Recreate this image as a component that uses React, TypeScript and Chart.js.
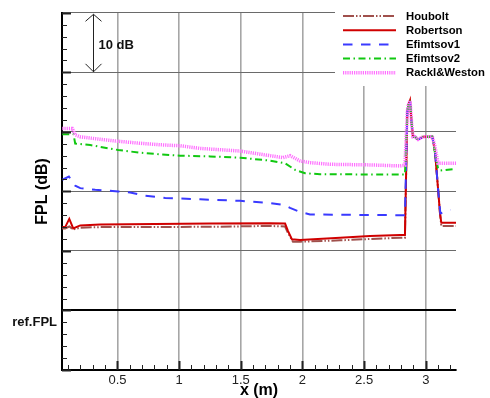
import React, { useEffect, useRef } from "react";
import { Chart, registerables } from "chart.js";
Chart.register(...registerables);

const FONT = "'Liberation Sans', Arial, sans-serif";

const seriesNames = ["Houbolt", "Robertson", "Efimtsov1", "Efimtsov2", "Rackl&Weston"];
const seriesColors = ["#a0504c", "#d00000", "#3a3aff", "#11c811", "#ff70ff"];
const seriesWidths = [2, 2, 2, 2, 3.5];
const seriesDashes: number[][] = [[11, 2, 1.5, 2, 1.5, 2], [], [9.5, 8.5], [7, 3.5, 1.5, 3.5], [1.2, 1]];
const seriesOrder = [4, 3, 2, 1, 0];

const houboltX = [0.052, 0.076, 0.109, 0.141, 0.198, 0.36, 1.251, 1.737, 1.859, 1.883, 1.923, 1.98, 2.305, 2.548, 2.791, 2.831, 2.85, 2.858, 2.872, 2.885, 2.896, 2.912, 2.937, 2.977, 3.053, 3.075, 3.099, 3.115, 3.126, 3.245];
const houboltY = [13.78, 13.78, 14.1, 13.62, 13.9, 14.0, 14.05, 14.2, 14.1, 13.0, 11.55, 11.55, 11.78, 12.0, 12.22, 12.22, 33.33, 34.45, 35.28, 31.5, 29.17, 29.17, 28.72, 29.17, 29.17, 26.67, 20.55, 16.38, 14.17, 14.17];

const robertsonX = [0.052, 0.076, 0.109, 0.141, 0.198, 0.36, 1.251, 1.737, 1.859, 1.883, 1.915, 1.98, 2.305, 2.548, 2.791, 2.831, 2.85, 2.858, 2.872, 2.885, 2.896, 2.912, 2.937, 2.977, 3.053, 3.075, 3.099, 3.115, 3.126, 3.245];
const robertsonY = [14.0, 14.0, 15.38, 13.78, 14.28, 14.45, 14.6, 14.65, 14.6, 13.33, 11.95, 11.83, 12.22, 12.5, 12.67, 12.67, 33.33, 34.45, 35.28, 31.5, 29.17, 29.17, 28.72, 29.17, 29.17, 26.67, 20.55, 16.38, 14.72, 14.72];

const efimtsov1X = [0.052, 0.106, 0.157, 0.198, 0.319, 0.506, 0.603, 0.724, 0.887, 1.008, 1.17, 1.494, 1.575, 1.737, 1.859, 1.899, 1.98, 2.061, 2.791, 2.831, 2.85, 2.858, 2.872, 2.885, 2.896, 2.912, 2.937, 2.977, 3.053, 3.075, 3.099, 3.118, 3.2];
const efimtsov1Y = [21.95, 22.5, 20.95, 20.55, 20.28, 20.0, 19.83, 19.28, 18.88, 18.83, 18.67, 18.42, 18.28, 18.05, 17.67, 17.22, 16.55, 16.12, 16.0, 16.0, 33.33, 34.45, 35.28, 31.5, 29.17, 29.17, 28.72, 29.17, 29.17, 26.67, 20.55, 16.3, 16.9];

const efimtsov2X = [0.052, 0.143, 0.157, 0.279, 0.506, 0.684, 0.846, 1.008, 1.251, 1.494, 1.737, 1.859, 1.94, 2.021, 2.142, 2.791, 2.831, 2.85, 2.858, 2.872, 2.885, 2.896, 2.912, 2.937, 2.977, 3.053, 3.075, 3.099, 3.115, 3.237];
const efimtsov2Y = [29.62, 29.62, 28.05, 27.78, 26.95, 26.5, 26.22, 26.0, 25.88, 25.67, 25.17, 24.72, 23.62, 23.05, 22.88, 22.83, 22.83, 33.33, 34.45, 35.28, 31.5, 29.17, 29.17, 28.72, 29.17, 29.17, 26.38, 23.88, 23.5, 23.78];

const racklX = [0.052, 0.133, 0.157, 0.198, 0.36, 0.506, 0.684, 0.846, 1.008, 1.17, 1.494, 1.737, 1.843, 1.899, 1.98, 2.061, 2.224, 2.548, 2.791, 2.831, 2.85, 2.858, 2.872, 2.885, 2.896, 2.912, 2.937, 2.977, 3.053, 3.075, 3.099, 3.245];
const racklY = [30.55, 30.58, 29.5, 29.17, 28.75, 28.42, 28.08, 27.83, 27.67, 27.22, 26.78, 26.0, 25.67, 26.0, 25.12, 24.83, 24.55, 24.45, 24.28, 24.4, 33.33, 34.45, 35.28, 31.5, 29.17, 29.17, 28.72, 29.17, 29.17, 27.5, 24.72, 24.72];

const seriesXs = [houboltX, robertsonX, efimtsov1X, efimtsov2X, racklX];
const seriesYs = [houboltY, robertsonY, efimtsov1Y, efimtsov2Y, racklY];

const xMin = 0.05;
const xMax = 3.245;
const xMinorStep = 0.1;
const xMajorStep = 0.5;
const xTickLabels = ["0.5", "1", "1.5", "2", "2.5", "3"];
const yMin = -10;
const yMax = 50;
const yMinorStep = 2;
const yMajorStep = 10;
const yLabelValues = [-2];
const yLabelTexts = ["ref.FPL"];
const refLevel = 0;
const arrowX = 0.3;
const arrowFrom = 50;
const arrowTo = 40;
const arrowText = "10 dB";
const xTitle = "x (m)";
const yTitle = "FPL (dB)";

const isMult = (v: number, step: number) => Math.abs(v / step - Math.round(v / step)) < 1e-6;

const decorPlugin = {
  id: "decor",
  afterDraw(chart: any) {
    const { ctx, chartArea } = chart;
    const xs = chart.scales.x;
    const ys = chart.scales.y;
    ctx.save();
    // inward ticks
    ctx.strokeStyle = "#222";
    ctx.setLineDash([]);
    for (let i = Math.ceil(yMin / yMinorStep); i <= Math.floor(yMax / yMinorStep); i++) {
      const v = i * yMinorStep;
      const major = isMult(v, yMajorStep);
      const py = Math.round(ys.getPixelForValue(v)) + 0.5;
      ctx.lineWidth = major ? 2 : 1;
      ctx.beginPath();
      ctx.moveTo(chartArea.left, py);
      ctx.lineTo(chartArea.left + (major ? 9 : 5), py);
      ctx.stroke();
    }
    for (let i = Math.ceil(xMin / xMinorStep); i <= Math.floor(xMax / xMinorStep); i++) {
      const v = i * xMinorStep;
      const major = isMult(v, xMajorStep);
      const px = Math.round(xs.getPixelForValue(v)) + 0.5;
      ctx.lineWidth = major ? 2 : 1;
      ctx.beginPath();
      ctx.moveTo(px, chartArea.bottom);
      ctx.lineTo(px, chartArea.bottom - (major ? 9 : 5));
      ctx.stroke();
    }
    // arrow
    const ax = Math.round(xs.getPixelForValue(arrowX)) + 0.5;
    const ay1 = ys.getPixelForValue(arrowFrom) + 1.5;
    const ay2 = ys.getPixelForValue(arrowTo) - 0.5;
    ctx.strokeStyle = "#222";
    ctx.lineWidth = 1;
    ctx.beginPath();
    ctx.moveTo(ax, ay1);
    ctx.lineTo(ax, ay2);
    ctx.moveTo(ax - 8, ay1 + 7);
    ctx.lineTo(ax, ay1);
    ctx.lineTo(ax + 8, ay1 + 7);
    ctx.moveTo(ax - 8, ay2 - 8);
    ctx.lineTo(ax, ay2);
    ctx.lineTo(ax + 8, ay2 - 8);
    ctx.stroke();
    ctx.fillStyle = "#111";
    ctx.font = `bold 13px ${FONT}`;
    ctx.textAlign = "left";
    ctx.textBaseline = "middle";
    ctx.fillText(arrowText, ax + 5, ys.getPixelForValue(44.6));
    // axis titles
    ctx.font = `bold 16px ${FONT}`;
    ctx.textAlign = "center";
    ctx.fillStyle = "#000";
    ctx.fillText(xTitle, (chartArea.left + chartArea.right) / 2, 391);
    ctx.save();
    ctx.translate(42.5, (chartArea.top + chartArea.bottom) / 2);
    ctx.rotate(-Math.PI / 2);
    ctx.fillText(yTitle, 0, 0);
    ctx.restore();
    // legend
    ctx.fillStyle = "#fff";
    ctx.fillRect(335, 0, 155, 86);
    ctx.font = `bold 11.3px ${FONT}`;
    ctx.textAlign = "left";
    chart.data.datasets.forEach((ds: any, i: number) => {
      const y = 16 + i * 14.2;
      ctx.strokeStyle = ds.borderColor;
      ctx.lineWidth = ds.borderWidth;
      ctx.setLineDash(ds.borderDash || []);
      ctx.beginPath();
      ctx.moveTo(343, y);
      ctx.lineTo(396, y);
      ctx.stroke();
      ctx.setLineDash([]);
      ctx.fillStyle = "#000";
      ctx.fillText(ds.label, 406, y + 0.5);
    });
    ctx.restore();
  },
};

export default function App() {
  const ref = useRef<HTMLCanvasElement | null>(null);
  useEffect(() => {
    if (!ref.current) return;
    const datasets = seriesNames.map((name, i) => ({
      label: name,
      data: seriesXs[i].map((x, j) => ({ x, y: seriesYs[i][j] })),
      borderColor: seriesColors[i],
      backgroundColor: seriesColors[i],
      borderWidth: seriesWidths[i],
      borderDash: seriesDashes[i],
      pointRadius: 0,
      tension: 0,
      fill: false,
      order: seriesOrder[i],
    }));
    const chart = new Chart(ref.current, {
      type: "line",
      data: { datasets },
      options: {
        animation: false,
        responsive: false,
        devicePixelRatio: 1,
        layout: { padding: { left: 0, right: 34, top: 9, bottom: 0 } },
        plugins: { legend: { display: false }, tooltip: { enabled: false } },
        scales: {
          x: {
            type: "linear",
            min: xMin,
            max: xMax,
            afterBuildTicks: (scale: any) => {
              const t = [];
              for (let i = Math.ceil(xMin / xMinorStep); i <= Math.floor(xMax / xMinorStep); i++) t.push({ value: Math.round(i * xMinorStep * 10) / 10 });
              scale.ticks = t;
            },
            afterFit: (scale: any) => {
              scale.height = 28;
            },
            ticks: {
              autoSkip: false,
              maxRotation: 0,
              padding: 3,
              color: "#222",
              font: { family: FONT, size: 13 },
              callback: (v: any) => {
                const k = Math.round(v / xMajorStep) - 1;
                return isMult(v, xMajorStep) && k >= 0 && k < xTickLabels.length ? xTickLabels[k] : "";
              },
            },
            grid: {
              drawTicks: false,
              color: (c: any) => (c.tick && isMult(c.tick.value, xMajorStep) ? "#a6a6a6" : "rgba(0,0,0,0)"),
              lineWidth: 1.6,
            },
            border: { display: true, color: "#000", width: 2 },
          },
          y: {
            type: "linear",
            min: yMin,
            max: yMax,
            afterBuildTicks: (scale: any) => {
              const t = [];
              for (let v = yMin; v <= yMax; v += yMinorStep) t.push({ value: v });
              scale.ticks = t;
            },
            afterFit: (scale: any) => {
              scale.width = 62;
            },
            ticks: {
              autoSkip: false,
              padding: 5,
              color: "#111",
              font: { family: FONT, size: 13, weight: "bold" },
              callback: (v: any) => {
                const k = yLabelValues.indexOf(v);
                return k >= 0 ? yLabelTexts[k] : "";
              },
            },
            grid: {
              drawTicks: false,
              color: (c: any) => {
                const v = c.tick ? c.tick.value : NaN;
                if (v === refLevel) return "#000";
                if (v > yMin && isMult(v, yMajorStep)) return "#6a6a6a";
                return "rgba(0,0,0,0)";
              },
              lineWidth: (c: any) => (c.tick && c.tick.value === refLevel ? 2 : 1),
            },
            border: { display: true, color: "#000", width: 2 },
          },
        },
      },
      plugins: [decorPlugin],
    } as any);
    return () => chart.destroy();
  }, []);
  return (
    <div style={{ position: "fixed", left: 0, top: 0, width: 490, height: 398, background: "#fff" }}>
      <canvas ref={ref} width={490} height={398} style={{ display: "block" }} />
    </div>
  );
}
